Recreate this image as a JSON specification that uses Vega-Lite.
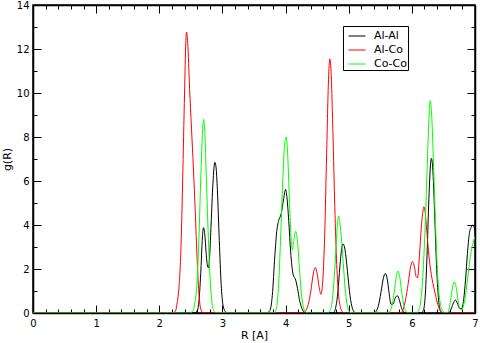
{
  "$schema": "https://vega.github.io/schema/vega-lite/v6.json",
  "width": 442,
  "height": 308,
  "autosize": {"type": "none"},
  "padding": {"left": 33, "top": 5, "right": 5, "bottom": 30},
  "background": "white",
  "config": {
    "view": {"stroke": "black", "strokeWidth": 1.5},
    "axis": {"domain": true, "domainColor": "black", "domainWidth": 1.5, "zindex": 1, "grid": false, "labelFont": "DejaVu Sans", "titleFont": "DejaVu Sans", "labelColor": "black", "titleColor": "black", "tickColor": "black", "titleFontWeight": "normal", "labelFontSize": 10, "titleFontSize": 11, "tickWidth": 1, "labelFlush": false, "labelOverlap": false}
  },
  "datasets": {
    "d": [
      {"pair":"Al-Al","R":0,"g":0},{"pair":"Al-Al","R":2.55,"g":0},{"pair":"Al-Al","R":2.6,"g":0.1},{"pair":"Al-Al","R":2.63,"g":0.6},{"pair":"Al-Al","R":2.66,"g":2.0},{"pair":"Al-Al","R":2.68,"g":3.3},{"pair":"Al-Al","R":2.7,"g":3.88},{"pair":"Al-Al","R":2.72,"g":3.6},{"pair":"Al-Al","R":2.74,"g":2.8},{"pair":"Al-Al","R":2.76,"g":2.2},{"pair":"Al-Al","R":2.78,"g":2.05},{"pair":"Al-Al","R":2.8,"g":2.7},{"pair":"Al-Al","R":2.82,"g":4.0},{"pair":"Al-Al","R":2.85,"g":5.9},{"pair":"Al-Al","R":2.88,"g":6.85},{"pair":"Al-Al","R":2.9,"g":6.6},{"pair":"Al-Al","R":2.92,"g":5.6},{"pair":"Al-Al","R":2.95,"g":3.3},{"pair":"Al-Al","R":2.98,"g":1.3},{"pair":"Al-Al","R":3.01,"g":0.35},{"pair":"Al-Al","R":3.05,"g":0.05},{"pair":"Al-Al","R":3.1,"g":0},
      {"pair":"Al-Al","R":3.7,"g":0},{"pair":"Al-Al","R":3.75,"g":0.1},{"pair":"Al-Al","R":3.79,"g":0.8},{"pair":"Al-Al","R":3.83,"g":2.6},{"pair":"Al-Al","R":3.86,"g":3.7},{"pair":"Al-Al","R":3.89,"g":4.2},{"pair":"Al-Al","R":3.93,"g":4.5},{"pair":"Al-Al","R":3.97,"g":5.2},{"pair":"Al-Al","R":4.0,"g":5.62},{"pair":"Al-Al","R":4.02,"g":5.3},{"pair":"Al-Al","R":4.05,"g":4.2},{"pair":"Al-Al","R":4.08,"g":2.8},{"pair":"Al-Al","R":4.12,"g":1.75},{"pair":"Al-Al","R":4.16,"g":1.5},{"pair":"Al-Al","R":4.19,"g":1.1},{"pair":"Al-Al","R":4.22,"g":0.6},{"pair":"Al-Al","R":4.26,"g":0.2},{"pair":"Al-Al","R":4.3,"g":0.03},{"pair":"Al-Al","R":4.34,"g":0},
      {"pair":"Al-Al","R":4.76,"g":0},{"pair":"Al-Al","R":4.79,"g":0.2},{"pair":"Al-Al","R":4.83,"g":1.0},{"pair":"Al-Al","R":4.86,"g":2.1},{"pair":"Al-Al","R":4.89,"g":2.95},{"pair":"Al-Al","R":4.91,"g":3.14},{"pair":"Al-Al","R":4.94,"g":2.9},{"pair":"Al-Al","R":4.98,"g":1.9},{"pair":"Al-Al","R":5.02,"g":0.8},{"pair":"Al-Al","R":5.06,"g":0.2},{"pair":"Al-Al","R":5.1,"g":0.02},{"pair":"Al-Al","R":5.13,"g":0},
      {"pair":"Al-Al","R":5.4,"g":0},{"pair":"Al-Al","R":5.44,"g":0.1},{"pair":"Al-Al","R":5.48,"g":0.45},{"pair":"Al-Al","R":5.52,"g":1.1},{"pair":"Al-Al","R":5.55,"g":1.6},{"pair":"Al-Al","R":5.58,"g":1.8},{"pair":"Al-Al","R":5.61,"g":1.55},{"pair":"Al-Al","R":5.64,"g":0.9},{"pair":"Al-Al","R":5.67,"g":0.4},{"pair":"Al-Al","R":5.7,"g":0.4},{"pair":"Al-Al","R":5.74,"g":0.7},{"pair":"Al-Al","R":5.77,"g":0.79},{"pair":"Al-Al","R":5.8,"g":0.6},{"pair":"Al-Al","R":5.84,"g":0.2},{"pair":"Al-Al","R":5.88,"g":0.03},{"pair":"Al-Al","R":5.92,"g":0},
      {"pair":"Al-Al","R":6.15,"g":0},{"pair":"Al-Al","R":6.18,"g":0.1},{"pair":"Al-Al","R":6.21,"g":0.7},{"pair":"Al-Al","R":6.24,"g":2.6},{"pair":"Al-Al","R":6.27,"g":5.2},{"pair":"Al-Al","R":6.3,"g":6.9},{"pair":"Al-Al","R":6.31,"g":7.03},{"pair":"Al-Al","R":6.33,"g":6.6},{"pair":"Al-Al","R":6.36,"g":4.6},{"pair":"Al-Al","R":6.39,"g":2.2},{"pair":"Al-Al","R":6.42,"g":0.7},{"pair":"Al-Al","R":6.45,"g":0.12},{"pair":"Al-Al","R":6.48,"g":0.01},{"pair":"Al-Al","R":6.52,"g":0},
      {"pair":"Al-Al","R":6.57,"g":0},{"pair":"Al-Al","R":6.61,"g":0.1},{"pair":"Al-Al","R":6.65,"g":0.4},{"pair":"Al-Al","R":6.69,"g":0.59},{"pair":"Al-Al","R":6.72,"g":0.45},{"pair":"Al-Al","R":6.76,"g":0.2},{"pair":"Al-Al","R":6.79,"g":0.2},{"pair":"Al-Al","R":6.82,"g":0.6},{"pair":"Al-Al","R":6.85,"g":1.5},{"pair":"Al-Al","R":6.88,"g":2.7},{"pair":"Al-Al","R":6.91,"g":3.6},{"pair":"Al-Al","R":6.94,"g":3.9},{"pair":"Al-Al","R":6.97,"g":4.0},{"pair":"Al-Al","R":7.0,"g":3.75},

      {"pair":"Al-Co","R":0,"g":0},{"pair":"Al-Co","R":2.2,"g":0},{"pair":"Al-Co","R":2.25,"g":0.05},{"pair":"Al-Co","R":2.28,"g":0.4},{"pair":"Al-Co","R":2.31,"g":1.1},{"pair":"Al-Co","R":2.33,"g":2.0},{"pair":"Al-Co","R":2.35,"g":3.6},{"pair":"Al-Co","R":2.37,"g":6.0},{"pair":"Al-Co","R":2.4,"g":10.0},{"pair":"Al-Co","R":2.42,"g":12.3},{"pair":"Al-Co","R":2.43,"g":12.77},{"pair":"Al-Co","R":2.45,"g":12.3},{"pair":"Al-Co","R":2.48,"g":10.2},{"pair":"Al-Co","R":2.51,"g":8.4},{"pair":"Al-Co","R":2.54,"g":6.6},{"pair":"Al-Co","R":2.57,"g":4.6},{"pair":"Al-Co","R":2.6,"g":2.4},{"pair":"Al-Co","R":2.63,"g":0.8},{"pair":"Al-Co","R":2.66,"g":0.15},{"pair":"Al-Co","R":2.7,"g":0},
      {"pair":"Al-Co","R":4.28,"g":0},{"pair":"Al-Co","R":4.32,"g":0.1},{"pair":"Al-Co","R":4.36,"g":0.4},{"pair":"Al-Co","R":4.4,"g":1.0},{"pair":"Al-Co","R":4.44,"g":1.8},{"pair":"Al-Co","R":4.47,"g":2.06},{"pair":"Al-Co","R":4.5,"g":1.8},{"pair":"Al-Co","R":4.53,"g":1.2},{"pair":"Al-Co","R":4.56,"g":0.85},{"pair":"Al-Co","R":4.59,"g":1.5},{"pair":"Al-Co","R":4.62,"g":3.6},{"pair":"Al-Co","R":4.65,"g":7.2},{"pair":"Al-Co","R":4.68,"g":10.6},{"pair":"Al-Co","R":4.7,"g":11.55},{"pair":"Al-Co","R":4.72,"g":11.0},{"pair":"Al-Co","R":4.75,"g":8.2},{"pair":"Al-Co","R":4.78,"g":4.8},{"pair":"Al-Co","R":4.81,"g":2.2},{"pair":"Al-Co","R":4.84,"g":0.8},{"pair":"Al-Co","R":4.87,"g":0.25},{"pair":"Al-Co","R":4.9,"g":0.05},{"pair":"Al-Co","R":4.94,"g":0},
      {"pair":"Al-Co","R":5.82,"g":0},{"pair":"Al-Co","R":5.86,"g":0.15},{"pair":"Al-Co","R":5.9,"g":0.6},{"pair":"Al-Co","R":5.94,"g":1.3},{"pair":"Al-Co","R":5.98,"g":2.1},{"pair":"Al-Co","R":6.01,"g":2.33},{"pair":"Al-Co","R":6.04,"g":2.1},{"pair":"Al-Co","R":6.07,"g":1.65},{"pair":"Al-Co","R":6.09,"g":1.6},{"pair":"Al-Co","R":6.12,"g":2.6},{"pair":"Al-Co","R":6.15,"g":3.9},{"pair":"Al-Co","R":6.18,"g":4.7},{"pair":"Al-Co","R":6.19,"g":4.83},{"pair":"Al-Co","R":6.21,"g":4.6},{"pair":"Al-Co","R":6.24,"g":3.6},{"pair":"Al-Co","R":6.27,"g":2.6},{"pair":"Al-Co","R":6.3,"g":1.9},{"pair":"Al-Co","R":6.33,"g":1.4},{"pair":"Al-Co","R":6.36,"g":1.0},{"pair":"Al-Co","R":6.4,"g":0.5},{"pair":"Al-Co","R":6.44,"g":0.15},{"pair":"Al-Co","R":6.48,"g":0.02},{"pair":"Al-Co","R":6.52,"g":0},{"pair":"Al-Co","R":7.0,"g":0},

      {"pair":"Co-Co","R":0,"g":0},{"pair":"Co-Co","R":2.48,"g":0},{"pair":"Co-Co","R":2.52,"g":0.05},{"pair":"Co-Co","R":2.56,"g":0.4},{"pair":"Co-Co","R":2.6,"g":1.5},{"pair":"Co-Co","R":2.63,"g":3.6},{"pair":"Co-Co","R":2.66,"g":6.4},{"pair":"Co-Co","R":2.69,"g":8.5},{"pair":"Co-Co","R":2.7,"g":8.8},{"pair":"Co-Co","R":2.72,"g":8.3},{"pair":"Co-Co","R":2.74,"g":6.6},{"pair":"Co-Co","R":2.77,"g":4.0},{"pair":"Co-Co","R":2.8,"g":1.8},{"pair":"Co-Co","R":2.83,"g":0.6},{"pair":"Co-Co","R":2.86,"g":0.12},{"pair":"Co-Co","R":2.9,"g":0},
      {"pair":"Co-Co","R":3.82,"g":0},{"pair":"Co-Co","R":3.86,"g":0.3},{"pair":"Co-Co","R":3.89,"g":1.3},{"pair":"Co-Co","R":3.92,"g":3.3},{"pair":"Co-Co","R":3.95,"g":5.6},{"pair":"Co-Co","R":3.98,"g":7.5},{"pair":"Co-Co","R":4.01,"g":8.0},{"pair":"Co-Co","R":4.03,"g":7.4},{"pair":"Co-Co","R":4.06,"g":5.2},{"pair":"Co-Co","R":4.09,"g":3.3},{"pair":"Co-Co","R":4.11,"g":2.86},{"pair":"Co-Co","R":4.13,"g":3.3},{"pair":"Co-Co","R":4.16,"g":3.71},{"pair":"Co-Co","R":4.19,"g":3.2},{"pair":"Co-Co","R":4.22,"g":2.0},{"pair":"Co-Co","R":4.25,"g":0.9},{"pair":"Co-Co","R":4.28,"g":0.3},{"pair":"Co-Co","R":4.32,"g":0.05},{"pair":"Co-Co","R":4.36,"g":0},
      {"pair":"Co-Co","R":4.66,"g":0},{"pair":"Co-Co","R":4.7,"g":0.1},{"pair":"Co-Co","R":4.74,"g":0.6},{"pair":"Co-Co","R":4.77,"g":1.6},{"pair":"Co-Co","R":4.8,"g":3.0},{"pair":"Co-Co","R":4.82,"g":4.0},{"pair":"Co-Co","R":4.84,"g":4.41},{"pair":"Co-Co","R":4.86,"g":4.1},{"pair":"Co-Co","R":4.89,"g":3.2},{"pair":"Co-Co","R":4.92,"g":2.0},{"pair":"Co-Co","R":4.95,"g":0.9},{"pair":"Co-Co","R":4.98,"g":0.3},{"pair":"Co-Co","R":5.02,"g":0.03},{"pair":"Co-Co","R":5.06,"g":0},
      {"pair":"Co-Co","R":5.62,"g":0},{"pair":"Co-Co","R":5.66,"g":0.1},{"pair":"Co-Co","R":5.69,"g":0.4},{"pair":"Co-Co","R":5.72,"g":0.95},{"pair":"Co-Co","R":5.75,"g":1.6},{"pair":"Co-Co","R":5.78,"g":1.91},{"pair":"Co-Co","R":5.81,"g":1.6},{"pair":"Co-Co","R":5.84,"g":0.95},{"pair":"Co-Co","R":5.87,"g":0.4},{"pair":"Co-Co","R":5.9,"g":0.1},{"pair":"Co-Co","R":5.94,"g":0},
      {"pair":"Co-Co","R":6.08,"g":0},{"pair":"Co-Co","R":6.12,"g":0.2},{"pair":"Co-Co","R":6.15,"g":0.8},{"pair":"Co-Co","R":6.18,"g":2.0},{"pair":"Co-Co","R":6.21,"g":3.9},{"pair":"Co-Co","R":6.24,"g":6.4},{"pair":"Co-Co","R":6.27,"g":8.8},{"pair":"Co-Co","R":6.29,"g":9.65},{"pair":"Co-Co","R":6.31,"g":9.2},{"pair":"Co-Co","R":6.34,"g":7.0},{"pair":"Co-Co","R":6.37,"g":4.4},{"pair":"Co-Co","R":6.4,"g":2.2},{"pair":"Co-Co","R":6.43,"g":0.9},{"pair":"Co-Co","R":6.46,"g":0.3},{"pair":"Co-Co","R":6.5,"g":0.05},{"pair":"Co-Co","R":6.54,"g":0},
      {"pair":"Co-Co","R":6.56,"g":0},{"pair":"Co-Co","R":6.59,"g":0.2},{"pair":"Co-Co","R":6.62,"g":0.7},{"pair":"Co-Co","R":6.65,"g":1.25},{"pair":"Co-Co","R":6.67,"g":1.42},{"pair":"Co-Co","R":6.7,"g":1.2},{"pair":"Co-Co","R":6.73,"g":0.6},{"pair":"Co-Co","R":6.76,"g":0.2},{"pair":"Co-Co","R":6.79,"g":0.15},{"pair":"Co-Co","R":6.82,"g":0.35},{"pair":"Co-Co","R":6.85,"g":0.8},{"pair":"Co-Co","R":6.88,"g":1.5},{"pair":"Co-Co","R":6.91,"g":2.2},{"pair":"Co-Co","R":6.94,"g":2.8},{"pair":"Co-Co","R":6.97,"g":3.2},{"pair":"Co-Co","R":7.0,"g":3.47}
    ],
    "frame": [{"R": 0, "g": 0}, {"R": 7, "g": 14}]
  },
  "layer": [
    {
      "data": {"name": "d"},
      "mark": {"type": "line", "strokeWidth": 1, "interpolate": "monotone", "clip": true},
      "encoding": {
        "x": {"field": "R", "type": "quantitative", "scale": {"domain": [0, 7], "nice": false, "zero": false},
              "axis": {"orient": "bottom", "values": [0,0.2,0.4,0.6,0.8,1,1.2,1.4,1.6,1.8,2,2.2,2.4,2.6,2.8,3,3.2,3.4,3.6,3.8,4,4.2,4.4,4.6,4.8,5,5.2,5.4,5.6,5.8,6,6.2,6.4,6.6,6.8,7],
                       "labelExpr": "abs(datum.value - round(datum.value)) < 0.01 ? format(datum.value, 'd') : ''",
                       "tickSize": {"condition": {"test": "abs(datum.value - round(datum.value)) < 0.01", "value": -8}, "value": -4},
                       "labelPadding": 13, "title": "R [A]", "titlePadding": -3}},
        "y": {"field": "g", "type": "quantitative", "scale": {"domain": [0, 14], "nice": false},
              "axis": {"orient": "left", "values": [0,1,2,3,4,5,6,7,8,9,10,11,12,13,14],
                       "labelExpr": "datum.value % 2 == 0 ? format(datum.value, 'd') : ''",
                       "tickSize": {"condition": {"test": "datum.value % 2 == 0", "value": -8}, "value": -4},
                       "labelAlign": "right", "labelPadding": 12, "title": "g(R)", "titlePadding": 4}},
        "color": {"field": "pair", "type": "nominal",
                  "scale": {"domain": ["Al-Al", "Al-Co", "Co-Co"], "range": ["#000000", "#ff0000", "#00ff00"]},
                  "legend": {"title": null, "orient": "none", "legendX": 310, "legendY": 21, "strokeColor": "black", "fillColor": "white", "padding": 1, "symbolOffset": 4, "symbolType": "stroke", "symbolSize": 289, "symbolStrokeWidth": 1, "labelFont": "DejaVu Sans", "labelFontSize": 11, "labelColor": "black", "labelOffset": 8, "rowPadding": -3.5, "cornerRadius": 0}}
      }
    },
    {
      "data": {"name": "frame"},
      "mark": {"type": "point", "opacity": 0},
      "encoding": {
        "x": {"field": "R", "type": "quantitative", "scale": {"domain": [0, 7], "nice": false, "zero": false},
              "axis": {"orient": "top", "values": [0,0.2,0.4,0.6,0.8,1,1.2,1.4,1.6,1.8,2,2.2,2.4,2.6,2.8,3,3.2,3.4,3.6,3.8,4,4.2,4.4,4.6,4.8,5,5.2,5.4,5.6,5.8,6,6.2,6.4,6.6,6.8,7],
                       "labels": false, "title": null,
                       "tickSize": {"condition": {"test": "abs(datum.value - round(datum.value)) < 0.01", "value": -8}, "value": -4}}},
        "y": {"field": "g", "type": "quantitative", "scale": {"domain": [0, 14], "nice": false},
              "axis": {"orient": "right", "values": [0,1,2,3,4,5,6,7,8,9,10,11,12,13,14],
                       "labels": false, "title": null,
                       "tickSize": {"condition": {"test": "datum.value % 2 == 0", "value": -8}, "value": -4}}}
      }
    }
  ],
  "resolve": {"axis": {"x": "independent", "y": "independent"}}
}
